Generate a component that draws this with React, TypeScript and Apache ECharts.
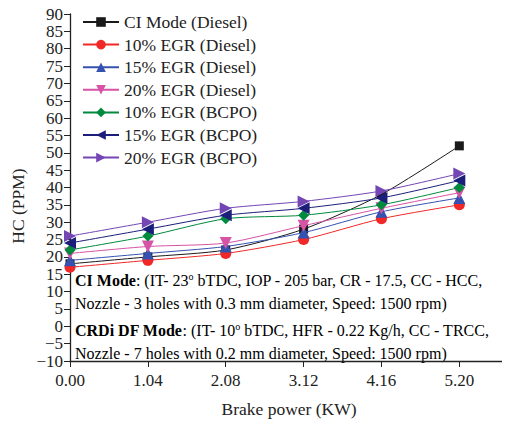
import React, { useEffect, useRef } from "react";
import * as echarts from "echarts";

const xValues = [0, 1.04, 2.08, 3.12, 4.16, 5.2];
const xTicks = [0, 1.04, 2.08, 3.12, 4.16, 5.2];
const seriesNames = [
  "CI Mode (Diesel)",
  "10% EGR (Diesel)",
  "15% EGR (Diesel)",
  "20% EGR (Diesel)",
  "10% EGR (BCPO)",
  "15% EGR (BCPO)",
  "20% EGR (BCPO)",
];
const ciMode = [18, 20, 22, 28, 38, 52];
const egr10Diesel = [17, 19, 21, 25, 31, 35];
const egr15Diesel = [19, 21, 23, 27, 33, 37];
const egr20Diesel = [21, 23, 24, 29, 34, 38.5];
const egr10Bcpo = [22, 26, 31, 32, 35, 40];
const egr15Bcpo = [24, 28, 32, 34, 37, 42];
const egr20Bcpo = [26, 30, 34, 36, 39, 44];
const seriesValues = [ciMode, egr10Diesel, egr15Diesel, egr20Diesel, egr10Bcpo, egr15Bcpo, egr20Bcpo];

const colors = ["#1a1a1a", "#f02828", "#3552b0", "#d653a6", "#008a3e", "#1c1f7a", "#7446b4"];
const symbols = ["rect", "circle", "triangle", "triangle", "diamond", "triangle", "triangle"];
const rotations = [0, 0, 0, 180, 0, 90, -90];
const sizes = [9, 11, 12, 12, 11, 12, 12];

const FONT = "Liberation Serif";

export default function App() {
  const ref = useRef<HTMLDivElement>(null);
  useEffect(() => {
    if (!ref.current) return;
    const chart = echarts.init(ref.current, null, { renderer: "svg" });
    const rich = {
      b: { fontFamily: FONT, fontSize: 16, fontWeight: "bold", color: "#222" },
      n: { fontFamily: FONT, fontSize: 16, color: "#222" },
      s: { fontFamily: FONT, fontSize: 10, color: "#222", verticalAlign: "top", padding: [0, 0, 8, 0] },
    };
    const textLines = [
      { y: 271, text: "{b|CI Mode}{n|: (IT- 23}{s|o}{n| bTDC, IOP - 205 bar, CR - 17.5, CC - HCC,}" },
      { y: 295, text: "{n|Nozzle - 3 holes with 0.3 mm diameter, Speed: 1500 rpm)}" },
      { y: 321, text: "{b|CRDi DF Mode}{n|: (IT- 10}{s|o}{n| bTDC, HFR - 0.22 Kg/h, CC - TRCC,}" },
      { y: 345, text: "{n|Nozzle - 7 holes with 0.2 mm diameter, Speed: 1500 rpm)}" },
    ];
    chart.setOption({
      animation: false,
      backgroundColor: "#fff",
      grid: { left: 70, right: 2, top: 14, bottom: 65 },
      legend: {
        orient: "vertical",
        left: 77,
        top: 8,
        itemWidth: 36,
        itemHeight: 12,
        itemGap: 4.6,
        symbolRotate: "inherit",
        textStyle: { fontFamily: FONT, fontSize: 17.5, color: "#222" },
        data: seriesNames,
      },
      xAxis: {
        type: "value",
        min: 0,
        max: 5.85,
        name: "Brake power (KW)",
        nameLocation: "middle",
        nameGap: 39,
        nameTextStyle: { fontFamily: FONT, fontSize: 17.5, color: "#222" },
        axisLine: { onZero: false, lineStyle: { color: "#222", width: 1.3 } },
        axisTick: { customValues: xTicks, length: 6, lineStyle: { color: "#222" } },
        axisLabel: {
          customValues: xTicks,
          fontFamily: FONT,
          fontSize: 17,
          color: "#222",
          margin: 11,
          formatter: (v: number) => v.toFixed(2),
        },
        splitLine: { show: false },
      },
      yAxis: {
        type: "value",
        min: -10,
        max: 90,
        interval: 5,
        axisLine: { show: true, onZero: false, lineStyle: { color: "#222", width: 1.3 } },
        axisTick: { show: true, length: 6, lineStyle: { color: "#222" } },
        axisLabel: {
          fontFamily: FONT,
          fontSize: 17,
          color: "#222",
          margin: 7,
          formatter: (v: number) => String(v).replace("-", "\u2212"),
        },
        splitLine: { show: false },
      },
      series: seriesNames.map((name, i) => ({
        name,
        type: "line",
        smooth: 0.25,
        data: xValues.map((x, j) => [x, seriesValues[i][j]]),
        symbol: symbols[i],
        symbolSize: sizes[i],
        symbolRotate: rotations[i],
        itemStyle: { color: colors[i] },
        lineStyle: { color: colors[i], width: 1 },
        z: 2 + i,
      })),
      graphic: [
        ...textLines.map((l) => ({
          type: "text",
          left: 75,
          top: l.y,
          style: { text: l.text, rich, fontFamily: FONT, fontSize: 16 },
        })),
        {
          type: "text",
          x: 18,
          y: 206,
          rotation: Math.PI / 2,
          style: {
            text: "HC (PPM)",
            fontFamily: FONT,
            fontSize: 17.5,
            fill: "#222",
            align: "center",
            verticalAlign: "middle",
          },
        },
      ],
    });
    return () => chart.dispose();
  }, []);
  return <div ref={ref} style={{ width: 510, height: 426, marginLeft: -8, marginTop: -8 }} />;
}
